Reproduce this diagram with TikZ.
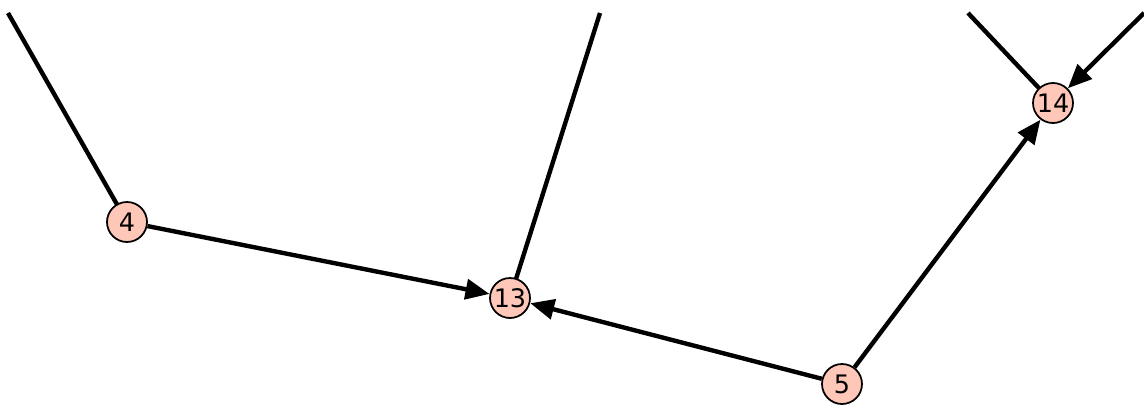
\documentclass[tikz,border=0pt]{standalone}
\usepackage{fontspec}
\setmainfont{DejaVu Sans}
\usetikzlibrary{arrows.meta}
\definecolor{vfill}{HTML}{FEC7B8}
\tikzset{
  vert/.style={circle, draw=black, line width=1pt, fill=vfill, minimum size=0.8cm, inner sep=0pt, font=\fontsize{14.5}{14.5}\selectfont},
  edge/.style={line width=2.5pt},
  arc/.style={edge, -{Triangle[length=0.48cm, width=0.40cm]}}
}
\begin{document}
\begin{tikzpicture}[x=0.02cm, y=-0.02cm]
  \useasboundingbox (0,0) rectangle (1144,406);
  \coordinate (u4) at (8,13);
  \coordinate (u13) at (600,13);
  \coordinate (u14) at (968,13);
  \coordinate (r14) at (1144,13);
  \draw[edge] (u4) -- (127,222);
  \draw[edge] (u13) -- (510,298);
  \draw[edge] (u14) -- (1053,103);
  \node[vert] (n4) at (127,222) {4};
  \node[vert] (n13) at (510,298) {13};
  \node[vert] (n5) at (842,384) {5};
  \node[vert] (n14) at (1053,103) {14};
  \draw[arc] (n4) -- (n13);
  \draw[arc] (n5) -- (n13);
  \draw[arc] (n5) -- (n14);
  \draw[arc] (r14) -- (n14);
\end{tikzpicture}
\end{document}
